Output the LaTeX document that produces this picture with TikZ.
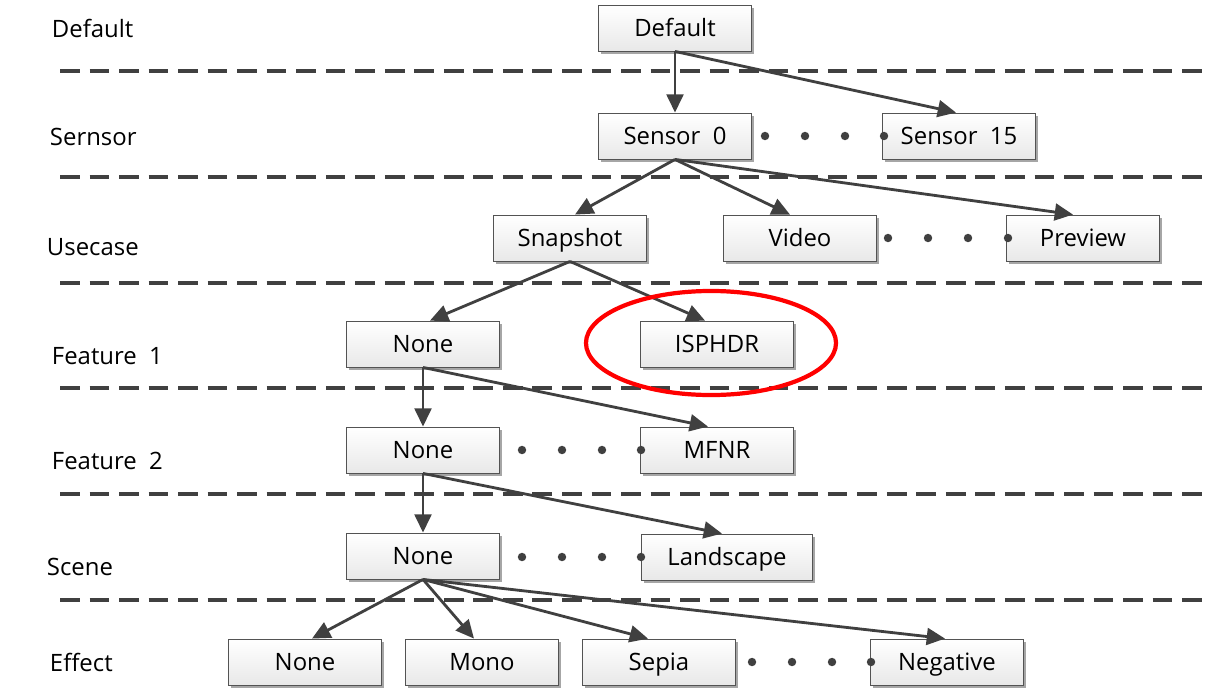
\documentclass[tikz,border=0pt]{standalone}
\usepackage{fontspec}
\setmainfont{Open Sans}
\usepackage{tikz}
\usetikzlibrary{arrows.meta,shadows,calc}

\definecolor{linegray}{HTML}{404040}

\begin{document}
\begin{tikzpicture}[x=0.025cm, y=-0.025cm,
  every node/.style={font=\fontsize{17}{20}\selectfont},
  box/.style={draw=linegray!90, line width=0.6pt, top color=white, bottom color=gray!18,
    minimum width=3.825cm, minimum height=1.15cm, inner sep=0pt,
    text height=14pt, text depth=1.8pt,
    drop shadow={shadow xshift=1.8pt, shadow yshift=-2.2pt, fill=gray!70, opacity=1}},
  lvl/.style={anchor=west},
  sep/.style={linegray, line width=2.8pt, dash pattern=on 14pt off 7pt},
  link/.style={linegray, line width=2pt, -{Triangle[length=13pt,width=12pt]}},
  dot/.style={fill=linegray}]
\useasboundingbox (0,0) rectangle (1210,697);

% level names on the left
\node[lvl] (lDef) at (47,28) {Default};
\node[lvl] (lSen) at (45,137) {Sernsor};
\node[lvl] (lUse) at (42,247) {Usecase};
\node[lvl] (lF1)  at (47,356) {Feature\ \ 1};
\node[lvl] (lF2)  at (47,461) {Feature\ \ 2};
\node[lvl] (lSce) at (42,567) {Scene};
\node[lvl] (lEff) at (45,662) {Effect};

% dashed separators between the levels
\foreach \y in {71,177,283,388,494,600}
  \draw[sep] (60,\y) -- (1210,\y);

% the boxes, one row per level
\node[box] (def)   at (675,28)  {Default};
\node[box] (sen0)  at (675,136) {Sensor\ \ 0};
\node[box] (sen15) at (959,136) {Sensor\ \ 15};
\node[box] (snap)  at (570,238) {Snapshot};
\node[box] (video) at (800,238) {Video};
\node[box] (prev)  at (1083,238) {Preview};
\node[box] (fnone) at (423,344) {None};
\node[box] (hdr)   at (717,344) {ISPHDR};
\node[box] (gnone) at (423,450) {None};
\node[box] (mfnr)  at (717,450) {MFNR};
\node[box] (snone) at (423,556) {None};
\node[box, minimum width=4.275cm] (land) at (727,557) {Landscape};
\node[box] (enone) at (305,662) {None};
\node[box] (mono)  at (482,662) {Mono};
\node[box] (sepia) at (659,662) {Sepia};
\node[box] (neg)   at (947,662) {Negative};

% dots for the boxes that are left out
\foreach \x in {765,805,845,884} \fill[dot] (\x,136) circle (3pt);
\foreach \x in {888,928,968,1008} \fill[dot] (\x,238) circle (3pt);
\foreach \x in {522,562,602,641} \fill[dot] (\x,450) circle (3pt);
\foreach \x in {522,562,602,641} \fill[dot] (\x,557) circle (3pt);
\foreach \x in {752,792,832,871} \fill[dot] (\x,662) circle (3pt);

% arrows from parent to child
\draw[link] (def.south) -- (sen0.north);
\draw[link] (def.south) -- ($(sen15.north)+(-3,0)$);
\draw[link] (sen0.south) -- ($(snap.north)+(5,0)$);
\draw[link] (sen0.south) -- ($(video.north)+(-10,0)$);
\draw[link] (sen0.south) -- ($(prev.north)+(-10,0)$);
\draw[link] (snap.south) -- ($(fnone.north)+(7,0)$);
\draw[link] (snap.south) -- ($(hdr.north)+(-12,0)$);
\draw[link] (fnone.south) -- (gnone.north);
\draw[link] (fnone.south) -- ($(mfnr.north)+(-9,0)$);
\draw[link] (gnone.south) -- (snone.north);
\draw[link] (gnone.south) -- ($(land.north)+(-5,0)$);
\draw[link] (snone.south) -- ($(enone.north)+(7,0)$);
\draw[link] (snone.south) -- ($(mono.north)+(-8,0)$);
\draw[link] (snone.south) -- ($(sepia.north)+(-11,0)$);
\draw[link] (snone.south) -- ($(neg.north)+(-2,0)$);

% red mark round ISPHDR
\draw[red, line width=3pt] (711,343) ellipse (3.125cm and 1.3cm);
\end{tikzpicture}
\end{document}
